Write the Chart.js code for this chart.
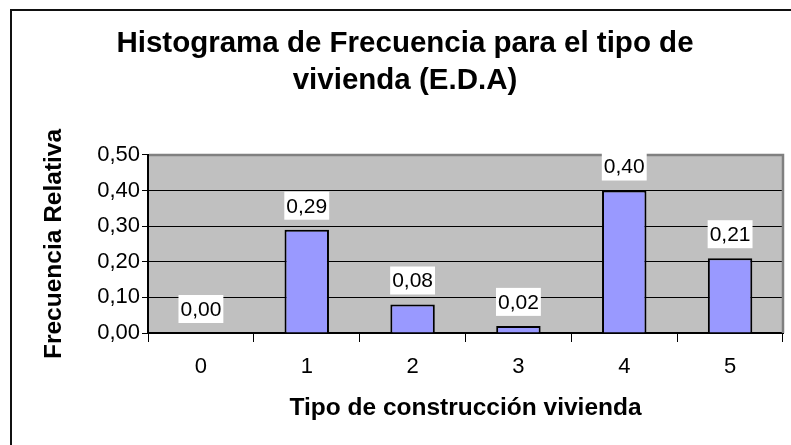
<!DOCTYPE html>
<html>
<head>
<meta charset="utf-8">
<script src="https://cdn.jsdelivr.net/npm/chart.js@4/dist/chart.umd.min.js"></script>
<style>
  body { margin: 0; background: #fff; }
  canvas { display: block; }
</style>
</head>
<body>
<canvas id="hist" width="791" height="445"></canvas>
<script>
// datos
const tipos = ["0", "1", "2", "3", "4", "5"];
const frecRelativa = [0.00, 0.29, 0.08, 0.02, 0.40, 0.21];
const yTicks = [0, 0.1, 0.2, 0.3, 0.4, 0.5];

const FONT = "'Liberation Sans', Arial, sans-serif";
const coma = v => Number(v).toFixed(2).replace(".", ",");

// fondo gris del area de trazado y marco exterior
const fondoPlugin = {
	id: "fondo",
	beforeDraw(chart) {
		const { ctx, chartArea: a } = chart;
		ctx.save();
		ctx.fillStyle = "#C0C0C0";
		ctx.fillRect(a.left, a.top, a.right - a.left, a.bottom - a.top);
		ctx.strokeStyle = "#111";
		ctx.lineWidth = 2;
		ctx.beginPath();
		ctx.moveTo(11, 445);
		ctx.lineTo(11, 10);
		ctx.lineTo(791, 10);
		ctx.stroke();
		ctx.restore();
	},
	afterDatasetsDraw(chart) {
		const { ctx, chartArea: a } = chart;
		ctx.save();
		ctx.strokeStyle = "#808080";
		ctx.lineWidth = 2.5;
		ctx.beginPath();
		ctx.moveTo(a.left + 1, a.top);
		ctx.lineTo(a.right, a.top);
		ctx.lineTo(a.right, a.bottom);
		ctx.stroke();
		ctx.restore();
	},
};

// etiquetas de valor con caja blanca
const etiquetasPlugin = {
	id: "etiquetas",
	afterDatasetsDraw(chart) {
		const { ctx } = chart;
		const meta = chart.getDatasetMeta(0);
		ctx.save();
		ctx.font = "21px " + FONT;
		ctx.textAlign = "center";
		ctx.textBaseline = "middle";
		meta.data.forEach((bar, i) => {
			const txt = coma(frecRelativa[i]);
			const w = ctx.measureText(txt).width + 4;
			const h = 28;
			const bottom = bar.y - 10;
			ctx.fillStyle = "#fff";
			ctx.fillRect(bar.x - w / 2, bottom - h, w, h);
			ctx.fillStyle = "#000";
			ctx.fillText(txt, bar.x, bottom - h / 2 + 1);
		});
		ctx.restore();
	},
};

new Chart(document.getElementById("hist"), {
	type: "bar",
	data: {
		labels: tipos,
		datasets: [
			{
				label: "Frecuencia Relativa",
				data: frecRelativa,
				backgroundColor: "#9999FF",
				borderColor: "#000",
				borderWidth: 2,
				categoryPercentage: 1,
				barPercentage: 0.42,
			},
		],
	},
	options: {
		responsive: false,
		animation: false,
		layout: { padding: { left: 27, right: 8, top: 0, bottom: 0 } },
		plugins: {
			legend: { display: false },
			tooltip: { enabled: false },
			title: {
				display: true,
				text: ["Histograma de Frecuencia para el tipo de", "vivienda (E.D.A)"],
				color: "#000",
				font: { family: FONT, size: 29.5, weight: "bold", lineHeight: 1.27 },
				padding: { top: 25, bottom: 55 },
			},
		},
		scales: {
			x: {
				offset: true,
				grid: {
					offset: true,
					drawOnChartArea: false,
					color: "#000",
					tickLength: 9,
				},
				border: { color: "#000", width: 2 },
				ticks: { color: "#000", font: { family: FONT, size: 22 }, padding: 12 },
				title: {
					display: true,
					text: "Tipo de construcción vivienda",
					color: "#000",
					font: { family: FONT, size: 24.5, weight: "bold" },
					padding: { top: 0, bottom: 22 },
				},
				afterFit(scale) {
					scale.height = 112;
				},
			},
			y: {
				min: 0,
				max: 0.5,
				afterBuildTicks(scale) {
					scale.ticks = yTicks.map(v => ({ value: v }));
				},
				grid: { color: "#000", lineWidth: 1, tickLength: 6 },
				border: { color: "#000", width: 2 },
				ticks: {
					color: "#000",
					font: { family: FONT, size: 22 },
					padding: 2,
					callback: v => coma(v),
				},
				title: {
					display: true,
					text: "Frecuencia Relativa",
					color: "#000",
					font: { family: FONT, size: 24.5, weight: "bold" },
					padding: { top: 13, bottom: 0 },
				},
				afterFit(scale) {
					scale.width = 121;
				},
			},
		},
	},
	plugins: [fondoPlugin, etiquetasPlugin],
});
</script>
</body>
</html>
